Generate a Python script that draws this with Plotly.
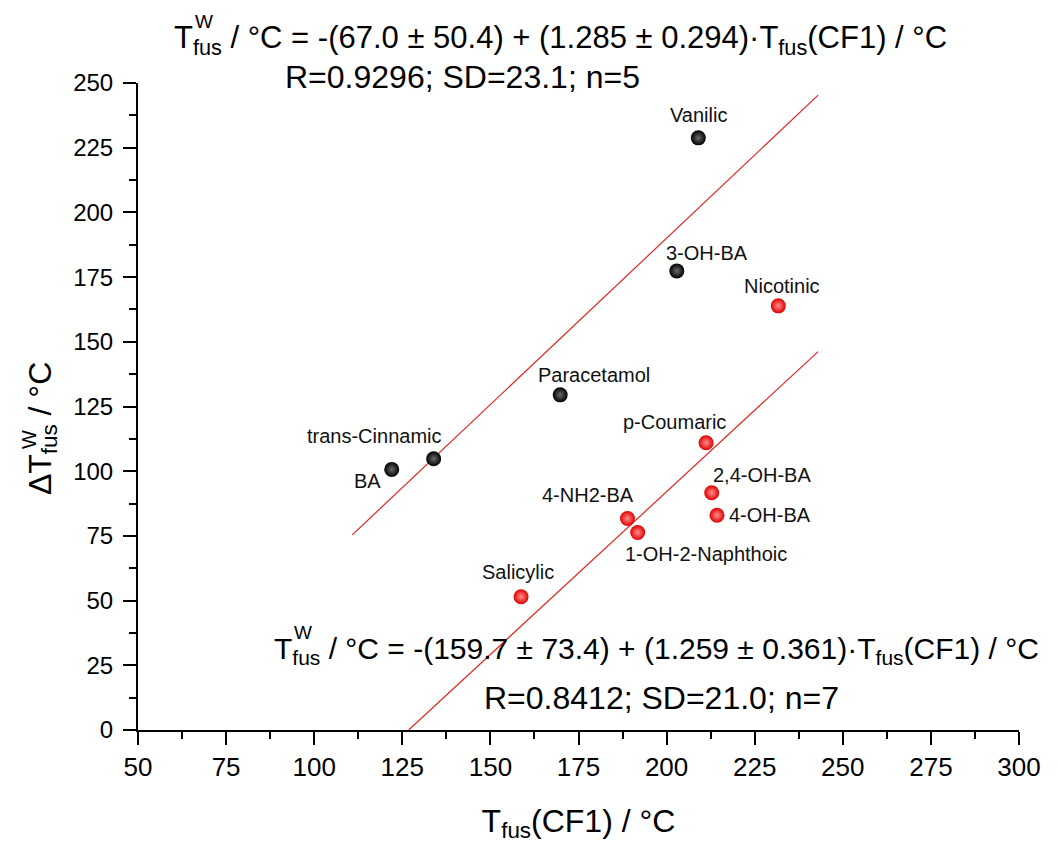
import plotly.graph_objects as go

# ---- data ----
black_names = ["BA", "trans-Cinnamic", "Paracetamol", "3-OH-BA", "Vanilic"]
black_x = [122.0, 133.9, 169.8, 202.9, 209.0]
black_y = [100.7, 104.8, 129.5, 177.4, 228.8]

red_names = ["Nicotinic", "p-Coumaric", "2,4-OH-BA", "4-OH-BA", "4-NH2-BA",
             "1-OH-2-Naphthoic", "Salicylic"]
red_x = [231.7, 211.2, 212.8, 214.3, 188.9, 191.8, 158.7]
red_y = [163.9, 111.0, 91.7, 83.0, 81.7, 76.3, 51.5]

fit1_x = [110.8, 243.0]
fit1_y = [75.4, 245.3]
fit2_x = [126.8, 243.0]
fit2_y = [0.0, 146.2]

x_ticks = [50, 75, 100, 125, 150, 175, 200, 225, 250, 275, 300]
y_ticks = [0, 25, 50, 75, 100, 125, 150, 175, 200, 225, 250]

eq1_text = "T<sub>fus</sub> / °C = -(67.0 ± 50.4) + (1.285 ± 0.294)·T<sub>fus</sub>(CF1) / °C"
eq1_stats = "R=0.9296; SD=23.1; n=5"
eq2_text = "T<sub>fus</sub> / °C = -(159.7 ± 73.4) + (1.259 ± 0.361)·T<sub>fus</sub>(CF1) / °C"
eq2_stats = "R=0.8412; SD=21.0; n=7"

# label offsets (px) and anchors
black_lab = {"BA": (-24, -12, "center"), "trans-Cinnamic": (-60, 23, "center"),
             "Paracetamol": (34, 20, "center"), "3-OH-BA": (30, 18, "center"),
             "Vanilic": (0, 23, "center")}
red_lab = {"Nicotinic": (4, 20, "center"), "p-Coumaric": (-32, 21, "center"),
           "2,4-OH-BA": (50, 18, "center"), "4-OH-BA": (10, 0, "left"),
           "4-NH2-BA": (-39, 24, "center"), "1-OH-2-Naphthoic": (68, -21, "center"),
           "Salicylic": (-3, 25, "center")}

REG = "Liberation Sans, Arial, sans-serif"

fig = go.Figure()
fig.add_trace(go.Scatter(x=fit1_x, y=fit1_y, mode="lines",
                         line=dict(color="#e8231f", width=1.2), showlegend=False))
fig.add_trace(go.Scatter(x=fit2_x, y=fit2_y, mode="lines",
                         line=dict(color="#e8231f", width=1.2), showlegend=False))
fig.add_trace(go.Scatter(x=black_x, y=black_y, mode="markers", showlegend=False,
                         marker=dict(size=15, color="#000000",
                                     gradient=dict(type="radial", color="#6a6a6a"),
                                     line=dict(width=0))))
fig.add_trace(go.Scatter(x=red_x, y=red_y, mode="markers", showlegend=False,
                         marker=dict(size=15, color="#e00000",
                                     gradient=dict(type="radial", color="#ff8c8c"),
                                     line=dict(width=0))))

anns = []
for n, x, y in zip(black_names, black_x, black_y):
    dx, dy, al = black_lab[n]
    anns.append(dict(x=x, y=y, text=n, showarrow=False, xshift=dx, yshift=dy,
                     xanchor=al, font=dict(family=REG, size=20, color="#111")))
for n, x, y in zip(red_names, red_x, red_y):
    dx, dy, al = red_lab[n]
    anns.append(dict(x=x, y=y, text=n, showarrow=False, xshift=dx, yshift=dy,
                     xanchor=al, font=dict(family=REG, size=20, color="#111")))

def px2paper(px, py):
    return (px - 137.7) / 881.3, (732 - py) / 648.7

def add_text(t, px, py, size, anchor="left", angle=0):
    xp, yp = px2paper(px, py)
    anns.append(dict(x=xp, y=yp, xref="paper", yref="paper", text=t, showarrow=False,
                     xanchor=anchor, yanchor="middle", textangle=angle,
                     font=dict(family=REG, size=size, color="#000")))

# top equation
add_text(eq1_text, 172, 40, 31)
add_text("W", 193, 22, 19)
add_text(eq1_stats, 462, 77, 32, "center")
# bottom equation
add_text(eq2_text, 272, 652, 30)
add_text("W", 292, 634, 19)
add_text(eq2_stats, 661, 700, 32, "center")
# y axis title
add_text("ΔT<sub>fus</sub> / °C", 42, 430, 32, "center", -90)
add_text("W", 28, 441, 20, "center", -90)

fig.update_layout(
    width=1059, height=845,
    margin=dict(l=137.7, r=40, t=83.3, b=113),
    paper_bgcolor="white", plot_bgcolor="white",
    annotations=anns,
    xaxis=dict(range=[50, 300], tickvals=x_ticks, ticktext=[str(v) for v in x_ticks],
               showline=True, linecolor="black", linewidth=2, ticks="outside",
               ticklen=13, tickwidth=2, tickcolor="black", showgrid=False, zeroline=False,
               tickfont=dict(family=REG, size=26, color="black"),
               minor=dict(dtick=12.5, tick0=50, ticks="outside", ticklen=7, tickwidth=2,
                          tickcolor="black", showgrid=False),
               title=dict(text="T<sub>fus</sub>(CF1) / °C", standoff=28,
                          font=dict(family=REG, size=32, color="black"))),
    yaxis=dict(range=[0, 250], tickvals=y_ticks, ticktext=[str(v) for v in y_ticks],
               showline=True, linecolor="black", linewidth=2, ticks="outside",
               ticklen=13, tickwidth=2, tickcolor="black", showgrid=False, zeroline=False,
               tickfont=dict(family=REG, size=24, color="black"),
               ticklabelstandoff=5,
               minor=dict(dtick=12.5, tick0=0, ticks="outside", ticklen=7, tickwidth=2,
                          tickcolor="black", showgrid=False)),
)
fig.write_html("out.html")
